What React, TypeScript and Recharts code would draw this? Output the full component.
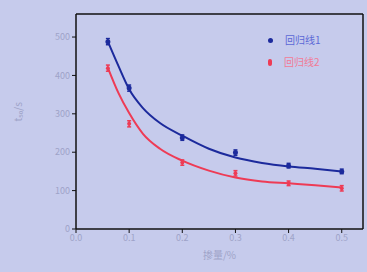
import { ComposedChart, ErrorBar, Label, Line, ReferenceLine, Scatter, XAxis, YAxis } from "recharts";

// Measured points (content %, time s)
const xPoints = [0.06, 0.1, 0.2, 0.3, 0.4, 0.5];
const series1 = [488, 367, 238, 199, 165, 150];
const series2 = [419, 274, 173, 145, 119, 106];
const errors1 = [8, 8, 7, 7, 6, 6];
const errors2 = [8, 8, 7, 7, 6, 7];

// Fitted curves
const fitX = [0.06, 0.08, 0.1, 0.126, 0.158, 0.2, 0.25, 0.3, 0.35, 0.4, 0.45, 0.5];
const fit1 = [488, 424, 364, 315, 276, 243, 209, 186, 172, 163, 157, 150];
const fit2 = [420, 354, 302, 248, 209, 178, 152, 134, 124, 119, 114, 108];

const xTicks = [0, 0.1, 0.2, 0.3, 0.4, 0.5];
const yTicks = [0, 100, 200, 300, 400, 500];
const legendLabels = ["回归线1", "回归线2"];

const BLUE = "#1c2a9c";
const RED = "#ee3b55";
const BG = "#c6cbec";
const INK = "#9ea3c8";

const pts1 = xPoints.map((x, i) => ({ x, y: series1[i], err: errors1[i] }));
const pts2 = xPoints.map((x, i) => ({ x, y: series2[i], err: errors2[i] }));
const line1 = fitX.map((x, i) => ({ x, y: fit1[i] }));
const line2 = fitX.map((x, i) => ({ x, y: fit2[i] }));

const tick = { fill: INK, fontSize: 9 };

function dotShape(color: string, r: number) {
  return (p: { cx?: number; cy?: number }) => <circle cx={p.cx} cy={p.cy} r={r} fill={color} />;
}

export default function App() {
  return (
    <div
      style={{
        position: "fixed",
        left: 0,
        top: 0,
        width: 367,
        height: 272,
        background: BG,
        fontFamily: "'Noto Sans CJK SC', 'Noto Sans', sans-serif",
      }}
    >
      <ComposedChart width={367} height={272} margin={{ top: 14, right: 4, bottom: 13, left: 36 }}>
        <XAxis
          type="number"
          dataKey="x"
          domain={[0, 0.54]}
          ticks={xTicks}
          tickFormatter={(v: number) => v.toFixed(1)}
          tick={tick}
          tickSize={4}
          tickLine={{ stroke: "#111" }}
          axisLine={{ stroke: "#111", strokeWidth: 1.5 }}
          height={30}
          allowDataOverflow
        >
          <Label value="掺量/%" position="insideBottom" offset={0} fill={INK} fontSize={10} />
        </XAxis>
        <YAxis
          type="number"
          dataKey="y"
          domain={[0, 560]}
          ticks={yTicks}
          tick={tick}
          tickSize={4}
          tickLine={{ stroke: "#111" }}
          axisLine={{ stroke: "#111", strokeWidth: 1.5 }}
          width={40}
          allowDataOverflow
        >
          <Label value="t₅₀/s" angle={-90} position="insideLeft" offset={-18} fill={INK} fontSize={10} />
        </YAxis>
        <ReferenceLine y={560} stroke="#111" strokeWidth={1.5} ifOverflow="visible" />
        <ReferenceLine x={0.54} stroke="#111" strokeWidth={1.5} ifOverflow="visible" />
        <Line data={line1} dataKey="y" type="monotone" stroke={BLUE} strokeWidth={2} dot={false} isAnimationActive={false} />
        <Line data={line2} dataKey="y" type="monotone" stroke={RED} strokeWidth={2} dot={false} isAnimationActive={false} />
        <Scatter data={pts1} dataKey="y" fill={BLUE} shape={dotShape(BLUE, 2.5)} isAnimationActive={false}>
          <ErrorBar dataKey="err" direction="y" width={2} stroke={BLUE} isAnimationActive={false} />
        </Scatter>
        <Scatter data={pts2} dataKey="y" fill={RED} shape={dotShape(RED, 2)} isAnimationActive={false}>
          <ErrorBar dataKey="err" direction="y" width={2} stroke={RED} isAnimationActive={false} />
        </Scatter>
      </ComposedChart>
      <div style={{ position: "absolute", left: 268, top: 32, fontSize: 10, lineHeight: "16px" }}>
        <div style={{ display: "flex", alignItems: "center", gap: 12, color: "#5b68d6" }}>
          <span style={{ width: 5, height: 5, borderRadius: 3, background: BLUE, display: "inline-block" }} />
          {legendLabels[0]}
        </div>
        <div style={{ display: "flex", alignItems: "center", gap: 12, color: "#f27a95", marginTop: 6 }}>
          <span style={{ width: 4, height: 7, borderRadius: 2, background: RED, display: "inline-block" }} />
          {legendLabels[1]}
        </div>
      </div>
    </div>
  );
}
